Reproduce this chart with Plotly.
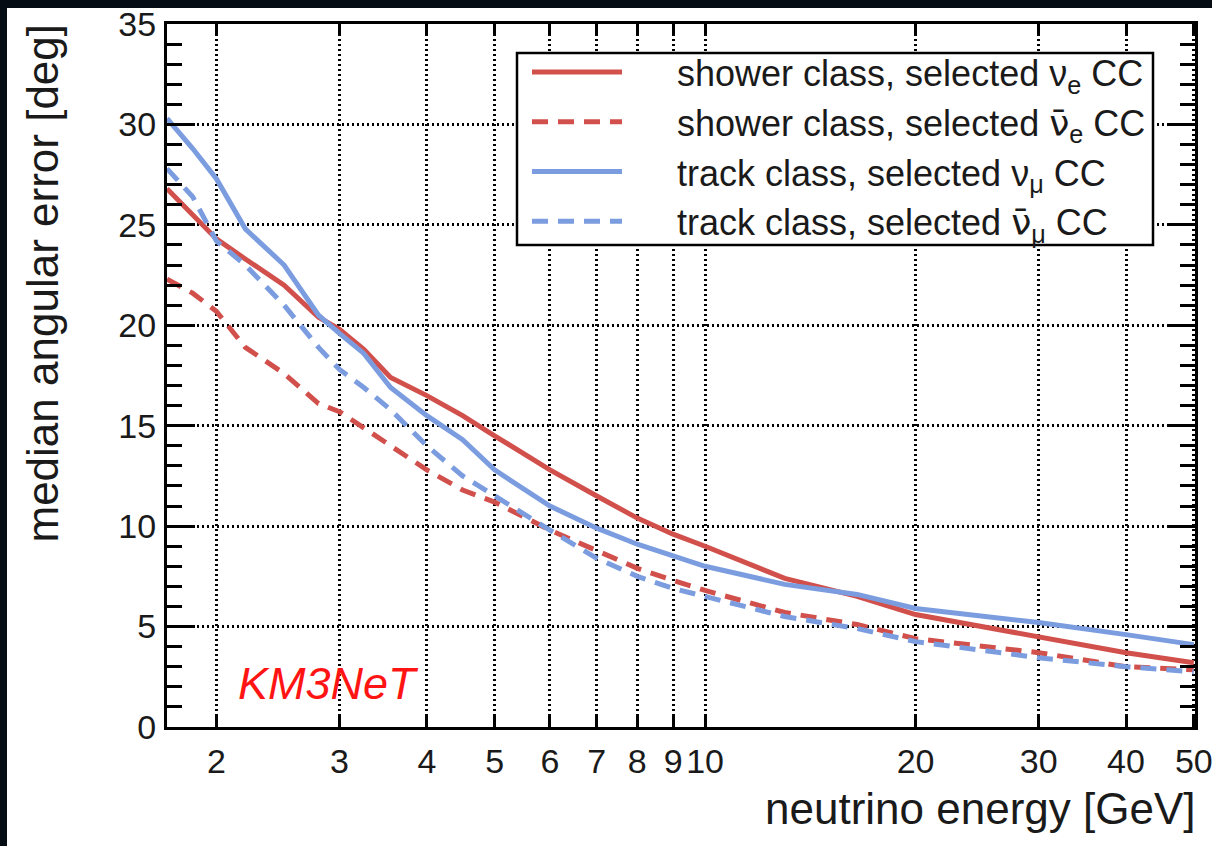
import math
import plotly.graph_objects as go

# Neutrino energy sampling points [GeV]
energy = [1.7, 1.85, 2.0, 2.2, 2.5, 2.8, 3.0, 3.25, 3.55, 4.0, 4.5, 5.0,
          6.0, 7.0, 8.0, 9.0, 10.0, 13.0, 16.5, 20.0, 30.0, 40.0, 50.0]

# Median angular error [deg] per event class / channel
shower_nue = [26.8, 25.5, 24.3, 23.3, 22.0, 20.4, 19.8, 18.8, 17.4, 16.5, 15.5, 14.5,
              12.8, 11.5, 10.4, 9.6, 9.0, 7.4, 6.5, 5.6, 4.5, 3.7, 3.2]
shower_nuebar = [22.3, 21.6, 20.7, 18.9, 17.6, 16.1, 15.7, 14.9, 14.0, 12.8, 11.8, 11.2,
                 9.8, 8.8, 7.9, 7.3, 6.8, 5.7, 5.1, 4.4, 3.7, 3.0, 2.85]
track_numu = [30.3, 28.8, 27.3, 24.8, 23.0, 20.5, 19.6, 18.6, 16.9, 15.5, 14.3, 12.8,
              11.0, 9.9, 9.1, 8.5, 8.0, 7.1, 6.6, 5.9, 5.2, 4.6, 4.1]
track_numubar = [27.8, 26.4, 24.2, 23.0, 21.0, 18.9, 17.8, 16.9, 15.8, 14.0, 12.5, 11.5,
                 9.8, 8.4, 7.5, 6.9, 6.5, 5.5, 4.9, 4.25, 3.45, 3.0, 2.75]

NU_BAR = '<span style="font-family:DejaVu Sans">ν\u0304</span>'
GAP = "\u00a0" * 5
series_names = [
    GAP + "shower class, selected ν<sub>e</sub> CC",
    GAP + "shower class, selected " + NU_BAR + "<sub>e</sub> CC",
    GAP + "track class, selected ν<sub>μ</sub> CC",
    GAP + "track class, selected " + NU_BAR + "<sub>μ</sub> CC",
]

x_tickvals = [2, 3, 4, 5, 6, 7, 8, 9, 10, 20, 30, 40, 50]
x_ticktext = ["2", "3", "4", "5", "6", "7", "8", "9", "10", "20", "30", "40", "50"]

RED = "#d2504c"
BLUE = "#7b9de0"
FONT = "Liberation Sans, Arial, Helvetica, sans-serif"

fig = go.Figure()
styles = [(RED, "solid"), (RED, "16px,10px"), (BLUE, "solid"), (BLUE, "16px,10px")]
for name, ys, (col, dash) in zip(series_names,
                                 [shower_nue, shower_nuebar, track_numu, track_numubar],
                                 styles):
    fig.add_trace(go.Scatter(x=energy, y=ys, mode="lines", name=name,
                             line=dict(color=col, width=5, dash=dash)))

# plot area in pixels: left 167, right 1195, top 24, bottom 727
L, R, T, B = 167, 1195, 24, 727
W, H = R - L, B - T


def px(x):
    return (x - L) / W


def py(y):
    return (B - y) / H


axis_common = dict(
    showline=True, linecolor="black", linewidth=3, mirror="ticks",
    ticks="inside", tickcolor="black", tickwidth=2.5,
    showgrid=True, gridcolor="black", gridwidth=2.5, griddash="2px,3px",
    zeroline=False, ticklabeloverflow="allow", automargin=False,
    tickfont=dict(family=FONT, size=34, color="#1a1a1a"),
)

fig.update_xaxes(
    type="log", range=[math.log10(1.7), math.log10(50.2)],
    tickmode="array", tickvals=x_tickvals, ticktext=x_ticktext,
    ticklen=12, tickangle=0, ticklabelstandoff=2,
    **axis_common,
)
fig.update_yaxes(
    range=[0, 35], tickmode="linear", tick0=0, dtick=5,
    ticklen=28, ticklabelstandoff=1,
    minor=dict(dtick=1, ticklen=15, tickwidth=2.5, ticks="inside",
               tickcolor="black", showgrid=False),
    **axis_common,
)

fig.update_layout(
    width=1212, height=846,
    margin=dict(l=L, r=1212 - R, t=T, b=846 - B, autoexpand=False),
    paper_bgcolor="white", plot_bgcolor="white",
    font=dict(family=FONT, color="#1a1a1a"),
    showlegend=True,
    legend=dict(
        x=px(527), y=py(42), xanchor="left", yanchor="top",
        bgcolor="rgba(0,0,0,0)", borderwidth=0,
        font=dict(family=FONT, size=36, color="#1a1a1a"),
        itemwidth=90, tracegroupgap=0,
    ),
    annotations=[
        dict(text="neutrino energy [GeV]", xref="paper", yref="paper",
             x=px(1197), y=py(782), xanchor="right", yanchor="top",
             showarrow=False, font=dict(family=FONT, size=44, color="#1a1a1a")),
        dict(text="median angular error [deg]", xref="paper", yref="paper",
             x=px(42), y=py(22), xanchor="center", yanchor="top", textangle=-90,
             showarrow=False, font=dict(family=FONT, size=44, color="#1a1a1a")),
        dict(text="<i>KM3NeT</i>", xref="paper", yref="paper",
             x=px(328), y=py(683), xanchor="center", yanchor="middle",
             showarrow=False, font=dict(family=FONT, size=45, color="#ff1414")),
    ],
    shapes=[
        # legend frame
        dict(type="rect", xref="paper", yref="paper", layer="above",
             x0=px(517), x1=px(1153), y0=py(245), y1=py(53),
             fillcolor="white", line=dict(color="black", width=2.5)),
        # dark frame strips along the top and left edges of the canvas
        dict(type="rect", xref="paper", yref="paper", layer="above",
             x0=px(-20), x1=px(1240), y0=py(8), y1=py(-20),
             fillcolor="#050c13", line=dict(width=0)),
        dict(type="rect", xref="paper", yref="paper", layer="above",
             x0=px(-20), x1=px(7), y0=py(870), y1=py(-20),
             fillcolor="#050c13", line=dict(width=0)),
    ],
)

fig.write_html("out.html")
